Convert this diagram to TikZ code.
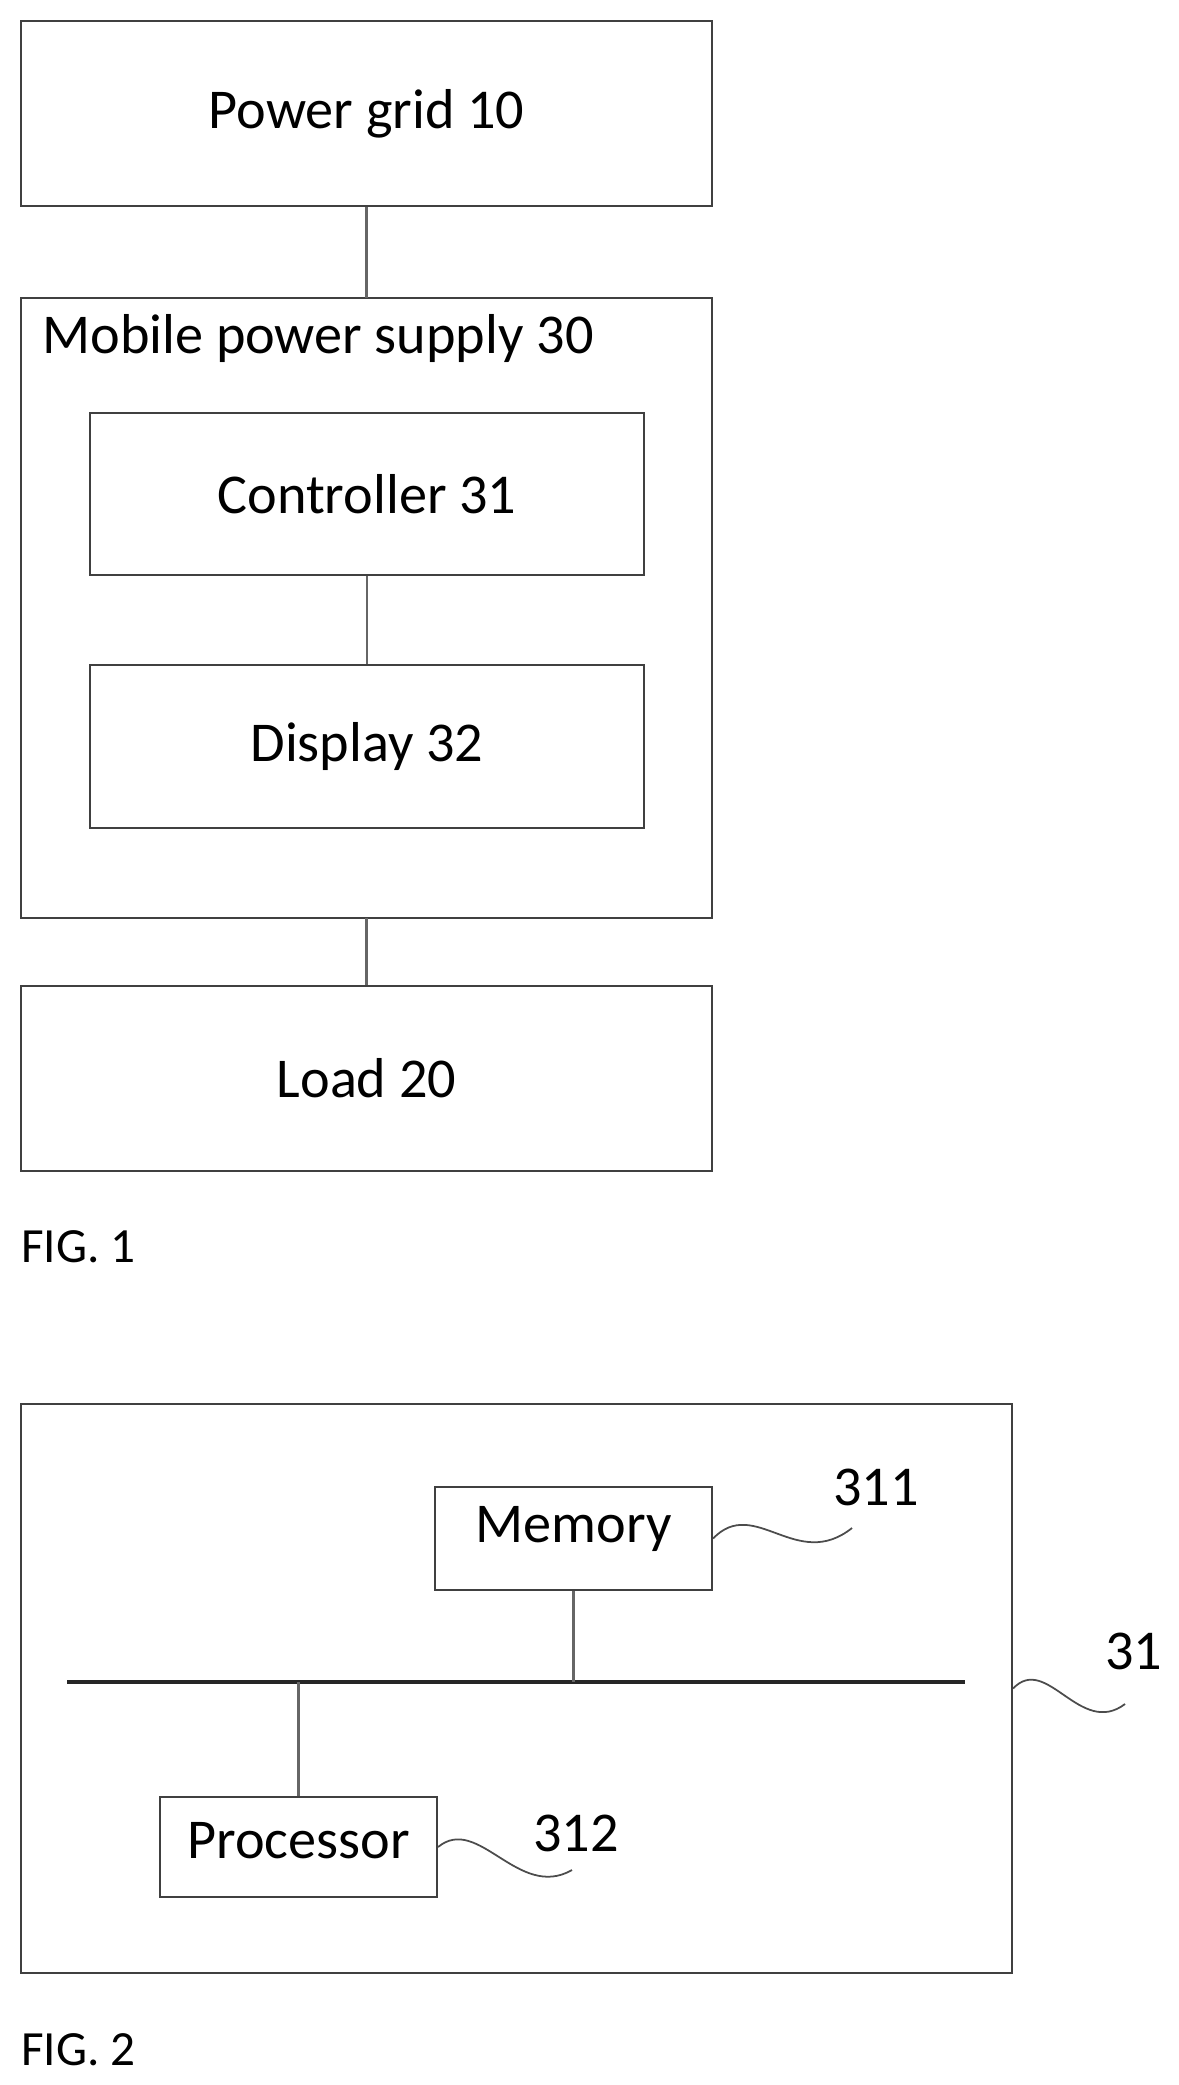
\documentclass[tikz,border=0pt]{standalone}
\usepackage{fontspec}
\setmainfont{Carlito}
\usetikzlibrary{positioning,calc}
\tikzset{
  blk/.style={draw=black!75, line width=1.2pt, inner sep=0pt},
  lnk/.style={draw=black!60, line width=1.2pt},
  txt/.style={font=\fontsize{32}{36}\selectfont, inner sep=0pt},
  figlbl/.style={font=\fontsize{28}{32}\selectfont, inner sep=0pt},
}
\begin{document}
\begin{tikzpicture}[x=0.02cm, y=-0.02cm]
  \useasboundingbox (0,0) rectangle (1178,2085);
  % FIG. 1
  \node[blk, minimum width=691*0.02cm, minimum height=185*0.02cm] (grid) at (366.5,113.5) {};
  \node[txt] at (grid) {Power grid 10};
  \draw[blk] (21,298) rectangle (712,918);
  \node[txt, anchor=north west] (mps) at (42,314) {Mobile power supply 30};
  \coordinate (mpsT) at (366.5,298);
  \coordinate (mpsB) at (366.5,918);
  \node[blk, minimum width=554*0.02cm, minimum height=162*0.02cm] (ctrl) at (367,494) {};
  \node[txt] at (ctrl) {Controller 31};
  \node[blk, minimum width=554*0.02cm, minimum height=163*0.02cm] (disp) at (367,746.5) {};
  \node[txt] at (disp) {Display 32};
  \node[blk, minimum width=691*0.02cm, minimum height=185*0.02cm] (load) at (366.5,1078.5) {};
  \node[txt] at (load) {Load 20};
  \draw[lnk] (grid.south) -- (mpsT);
  \draw[lnk] (ctrl.south) -- (disp.north);
  \draw[lnk] (mpsB) -- (load.north);
  \node[figlbl, anchor=west] (fig1) at (21,1247) {FIG. 1};
  % FIG. 2
  \node[blk, minimum width=991*0.02cm, minimum height=569*0.02cm] (dev) at (516.5,1688.5) {};
  \node[blk, minimum width=277*0.02cm, minimum height=103*0.02cm] (mem) at (573.5,1538.5) {};
  \node[txt] at ($(mem)+(0,-10)$) {Memory};
  \node[blk, minimum width=277*0.02cm, minimum height=100*0.02cm] (proc) at (298.5,1847) {};
  \node[txt] at ($(proc)+(0,-6)$) {Processor};
  \coordinate (busL) at (67,1682);
  \coordinate (busR) at (965,1682);
  \draw[line width=2.5pt, black!85] (busL) -- (busR);
  \draw[lnk] (mem.south) -- (mem.south |- busL);
  \draw[lnk] (proc.north) -- (proc.north |- busL);
  \node[txt, anchor=south west] (l311) at (833,1506) {311};
  \node[txt, anchor=south west] (l312) at (533,1852) {312};
  \node[txt, anchor=south west] (l31) at (1105,1670) {31};
  \foreach \a/\b in {{mem.east}/{852,1528}, {proc.east}/{572,1870}, {dev.east}/{1125,1704}} {
    \draw[black!70, line width=1pt] (\a) .. controls ($(\a)!0.3!(\b)+(0,-40)$) and ($(\a)!0.6!(\b)+(0,40)$) .. (\b);
  }
  \node[figlbl, anchor=west] (fig2) at (21,2050) {FIG. 2};
\end{tikzpicture}
\end{document}
